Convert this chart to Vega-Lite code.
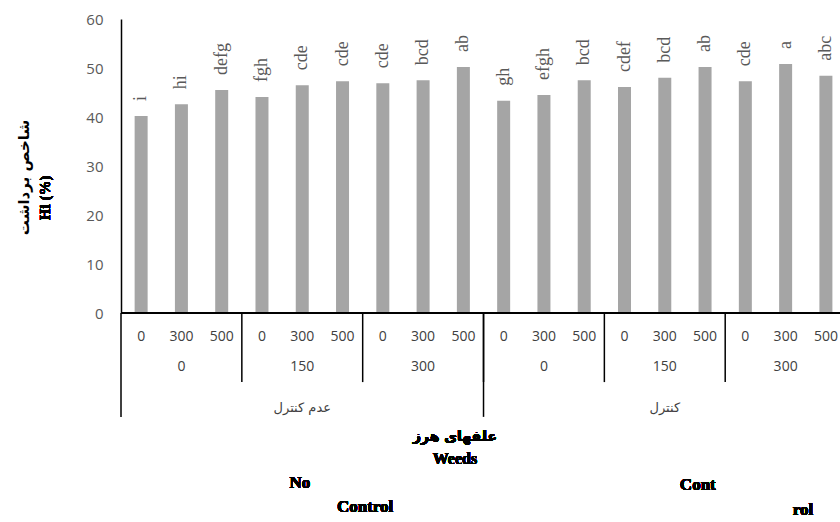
{
  "$schema": "https://vega.github.io/schema/vega-lite/v6.json",
  "width": 719,
  "height": 294,
  "autosize": "none",
  "padding": {"left": 121, "top": 19, "right": 0, "bottom": 209},
  "background": "white",
  "config": {"view": {"stroke": null}},
  "data": {
    "values": [
      {"order": 0, "weed": "عدم کنترل", "a": 0, "b": 0, "hi": 40.2, "letter": "i"},
      {"order": 1, "weed": "عدم کنترل", "a": 0, "b": 300, "hi": 42.6, "letter": "hi"},
      {"order": 2, "weed": "عدم کنترل", "a": 0, "b": 500, "hi": 45.5, "letter": "defg"},
      {"order": 3, "weed": "عدم کنترل", "a": 150, "b": 0, "hi": 44.1, "letter": "fgh"},
      {"order": 4, "weed": "عدم کنترل", "a": 150, "b": 300, "hi": 46.5, "letter": "cde"},
      {"order": 5, "weed": "عدم کنترل", "a": 150, "b": 500, "hi": 47.3, "letter": "cde"},
      {"order": 6, "weed": "عدم کنترل", "a": 300, "b": 0, "hi": 46.9, "letter": "cde"},
      {"order": 7, "weed": "عدم کنترل", "a": 300, "b": 300, "hi": 47.5, "letter": "bcd"},
      {"order": 8, "weed": "عدم کنترل", "a": 300, "b": 500, "hi": 50.2, "letter": "ab"},
      {"order": 9, "weed": "کنترل", "a": 0, "b": 0, "hi": 43.3, "letter": "gh"},
      {"order": 10, "weed": "کنترل", "a": 0, "b": 300, "hi": 44.5, "letter": "efgh"},
      {"order": 11, "weed": "کنترل", "a": 0, "b": 500, "hi": 47.5, "letter": "bcd"},
      {"order": 12, "weed": "کنترل", "a": 150, "b": 0, "hi": 46.1, "letter": "cdef"},
      {"order": 13, "weed": "کنترل", "a": 150, "b": 300, "hi": 48.0, "letter": "bcd"},
      {"order": 14, "weed": "کنترل", "a": 150, "b": 500, "hi": 50.2, "letter": "ab"},
      {"order": 15, "weed": "کنترل", "a": 300, "b": 0, "hi": 47.3, "letter": "cde"},
      {"order": 16, "weed": "کنترل", "a": 300, "b": 300, "hi": 50.8, "letter": "a"},
      {"order": 17, "weed": "کنترل", "a": 300, "b": 500, "hi": 48.4, "letter": "abc"}
    ]
  },
  "layer": [
    {
      "mark": {"type": "bar", "size": 13, "color": "#a5a5a5"},
      "encoding": {
        "x": {"field": "order", "type": "quantitative", "scale": {"domain": [-0.5, 17.35], "nice": false, "zero": false, "padding": 0},
          "axis": null},
        "y": {"field": "hi", "type": "quantitative", "scale": {"domain": [0, 60], "nice": false, "padding": 0},
          "axis": {"values": [0, 10, 20, 30, 40, 50, 60], "grid": false, "ticks": false, "domainColor": "#000000", "domainWidth": 1.5,
            "labelColor": "#595959", "labelFont": "Open Sans", "labelFontSize": 15, "labelPadding": 18,
            "title": "شاخص برداشت", "titleFont": "DejaVu Sans", "titleFontWeight": "bold", "titleFontSize": 15,
            "titleColor": "#000000", "titlePadding": 54, "titleY": 158}}
      }
    },
    {
      "mark": {"type": "rule", "color": "#000000", "strokeWidth": 1.5},
      "encoding": {"y": {"datum": 0}}
    },
    {
      "mark": {"type": "text", "text": "Hi (%)", "angle": 270, "align": "center", "baseline": "middle", "font": "Liberation Serif", "fontWeight": "bold", "fontSize": 15, "color": "#000000"},
      "encoding": {"x": {"datum": -2.39}, "y": {"datum": 23.5}}
    },
    {
      "mark": {"type": "text", "angle": 270, "align": "left", "baseline": "middle", "dx": 15, "font": "Liberation Serif", "fontSize": 18, "color": "#595959"},
      "encoding": {
        "x": {"field": "order", "type": "quantitative"},
        "y": {"field": "hi", "type": "quantitative"},
        "text": {"field": "letter"}
      }
    },
    {
      "mark": {"type": "text", "baseline": "middle", "font": "Open Sans", "fontSize": 14, "color": "#404040"},
      "encoding": {
        "x": {"field": "order", "type": "quantitative"},
        "y": {"datum": -4.9},
        "text": {"field": "b"}
      }
    },
    {
      "transform": [{"aggregate": [{"op": "mean", "field": "order", "as": "mid"}], "groupby": ["weed", "a"]}],
      "mark": {"type": "text", "baseline": "middle", "font": "Open Sans", "fontSize": 14, "color": "#404040"},
      "encoding": {
        "x": {"field": "mid", "type": "quantitative"},
        "y": {"datum": -11.0},
        "text": {"field": "a"}
      }
    },
    {
      "transform": [{"aggregate": [{"op": "mean", "field": "order", "as": "mid"}], "groupby": ["weed"]}],
      "mark": {"type": "text", "baseline": "middle", "font": "DejaVu Sans", "fontSize": 13, "color": "#404040"},
      "encoding": {
        "x": {"field": "mid", "type": "quantitative"},
        "y": {"datum": -19.4},
        "text": {"field": "weed"}
      }
    },
    {
      "transform": [{"aggregate": [{"op": "max", "field": "order", "as": "last"}], "groupby": ["weed", "a"]}],
      "mark": {"type": "rule", "color": "#000000", "strokeWidth": 1.5, "xOffset": 20.14},
      "encoding": {
        "x": {"field": "last", "type": "quantitative"},
        "y": {"datum": 0},
        "y2": {"datum": -14.1}
      }
    },
    {
      "transform": [{"aggregate": [{"op": "min", "field": "order", "as": "first"}], "groupby": ["weed"]}],
      "mark": {"type": "rule", "color": "#000000", "strokeWidth": 1.5, "xOffset": -20.14},
      "encoding": {
        "x": {"field": "first", "type": "quantitative"},
        "y": {"datum": 0},
        "y2": {"datum": -21.2}
      }
    },
    {
      "mark": {"type": "text", "text": "علفهای هرز", "font": "DejaVu Sans", "fontWeight": "bold", "fontSize": 14, "color": "#000000", "baseline": "middle"},
      "encoding": {"x": {"datum": 7.79}, "y": {"datum": -25.3}}
    },
    {
      "mark": {"type": "text", "text": "Weeds", "font": "Liberation Serif", "fontWeight": "bold", "fontSize": 16, "color": "#000000", "baseline": "middle"},
      "encoding": {"x": {"datum": 7.79}, "y": {"datum": -29.8}}
    },
    {
      "mark": {"type": "text", "text": "No", "font": "Liberation Serif", "fontWeight": "bold", "fontSize": 17, "color": "#000000", "baseline": "middle"},
      "encoding": {"x": {"datum": 3.94}, "y": {"datum": -34.7}}
    },
    {
      "mark": {"type": "text", "text": "Control", "font": "Liberation Serif", "fontWeight": "bold", "fontSize": 17, "color": "#000000", "baseline": "middle"},
      "encoding": {"x": {"datum": 5.56}, "y": {"datum": -39.6}}
    },
    {
      "mark": {"type": "text", "text": "Cont", "font": "Liberation Serif", "fontWeight": "bold", "fontSize": 17, "color": "#000000", "baseline": "middle"},
      "encoding": {"x": {"datum": 13.82}, "y": {"datum": -35.1}}
    },
    {
      "mark": {"type": "text", "text": "rol", "font": "Liberation Serif", "fontWeight": "bold", "fontSize": 17, "color": "#000000", "baseline": "middle"},
      "encoding": {"x": {"datum": 16.43}, "y": {"datum": -40.2}}
    }
  ]
}
